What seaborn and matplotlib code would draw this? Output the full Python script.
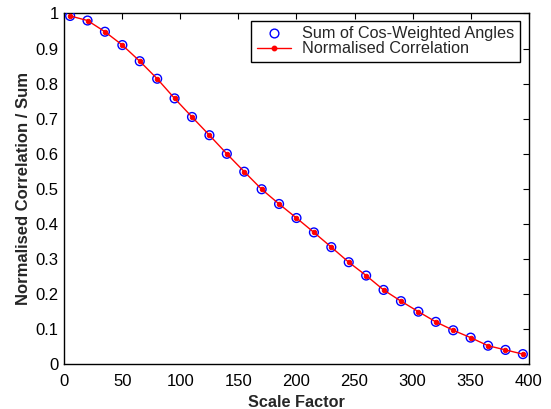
import matplotlib
matplotlib.use("Agg")
import matplotlib.pyplot as plt
import seaborn as sns
import pandas as pd
from matplotlib.lines import Line2D

scale_factor = [5, 20, 35, 50, 65, 80, 95, 110, 125, 140, 155, 170, 185, 200,
                215, 230, 245, 260, 275, 290, 305, 320, 335, 350, 365, 380, 395]
sum_cos_weighted = [0.993, 0.980, 0.948, 0.910, 0.864, 0.814, 0.758, 0.705, 0.653,
                    0.600, 0.549, 0.499, 0.457, 0.417, 0.376, 0.334, 0.291, 0.253,
                    0.212, 0.180, 0.150, 0.121, 0.097, 0.076, 0.053, 0.041, 0.029]
normalised_corr = [0.993, 0.980, 0.948, 0.910, 0.864, 0.814, 0.758, 0.705, 0.653,
                   0.600, 0.549, 0.499, 0.457, 0.417, 0.376, 0.334, 0.291, 0.253,
                   0.212, 0.180, 0.150, 0.121, 0.097, 0.076, 0.053, 0.041, 0.029]
x_ticks = [0, 50, 100, 150, 200, 250, 300, 350, 400]
y_ticks = [0, 0.1, 0.2, 0.3, 0.4, 0.5, 0.6, 0.7, 0.8, 0.9, 1]
y_tick_labels = ["0", "0.1", "0.2", "0.3", "0.4", "0.5", "0.6", "0.7", "0.8", "0.9", "1"]

df = pd.DataFrame({"x": scale_factor, "s": sum_cos_weighted, "n": normalised_corr})

sns.set_theme(style="white")
plt.rcParams["font.family"] = ["Liberation Sans", "DejaVu Sans"]

fig = plt.figure(figsize=(5.51, 4.09), dpi=100)
ax = fig.add_axes([0.1167, 0.1093, 0.8428, 0.8577])

sns.scatterplot(data=df, x="x", y="s", ax=ax, marker="o", s=40,
                facecolors="none", edgecolor="blue", linewidth=1.0, zorder=3)
sns.lineplot(data=df, x="x", y="n", ax=ax, color="red", linewidth=1.0,
             marker="o", markersize=3.2, markeredgecolor="red", zorder=4)

ax.set_xlim(0, 400)
ax.set_ylim(0, 1)
ax.set_xticks(x_ticks)
ax.set_xticklabels([str(t) for t in x_ticks])
ax.set_yticks(y_ticks)
ax.set_yticklabels(y_tick_labels)
ax.tick_params(direction="in", top=True, right=True, length=4, width=0.8,
               labelsize=12, color="black", labelcolor="black")
ax.tick_params(axis="x", pad=7)
ax.tick_params(axis="y", pad=4)
for sp in ax.spines.values():
    sp.set_color("black")
    sp.set_linewidth(1.0)
    sp.set_visible(True)

ax.set_xlabel("Scale Factor", fontsize=11.7, fontweight="bold", labelpad=4)
ax.set_ylabel("Normalised Correlation / Sum", fontsize=12, fontweight="bold", labelpad=3)

handles = [
    Line2D([], [], linestyle="none", marker="o", markerfacecolor="none",
           markeredgecolor="blue", markersize=6.3, markeredgewidth=1.0),
    Line2D([], [], color="red", linewidth=1.0, marker="o", markersize=3.2,
           markeredgecolor="red", markerfacecolor="red"),
]
leg = ax.legend(handles, ["Sum of Cos-Weighted Angles", "Normalised Correlation"],
                loc="upper right", bbox_to_anchor=(0.981, 0.9786), fontsize=11.7,
                frameon=True, fancybox=False, edgecolor="black", framealpha=1,
                borderpad=0.33, labelspacing=0.0, handlelength=2.1,
                handletextpad=0.7, borderaxespad=0)
leg.get_frame().set_linewidth(1.0)

fig.savefig("out.png", dpi=100)
